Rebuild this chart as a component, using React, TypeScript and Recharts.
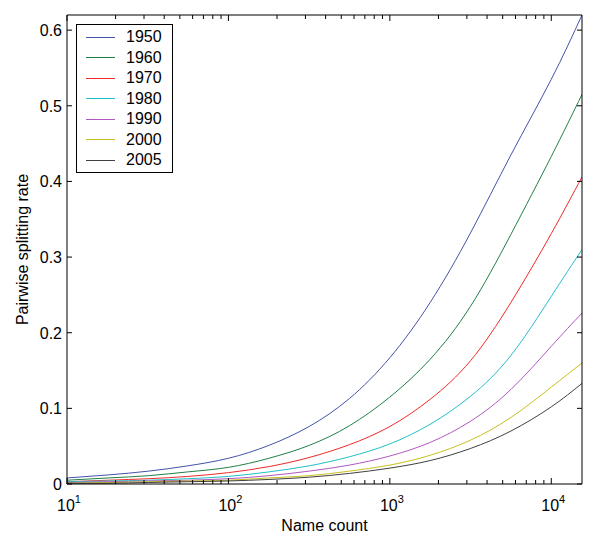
import React from "react";
import { LineChart, Line, XAxis, YAxis } from "recharts";

const counts = [10, 18, 32, 56, 100, 178, 316, 562, 1000, 1778, 3162, 5623, 10000, 15500];

const years = ["1950", "1960", "1970", "1980", "1990", "2000", "2005"];
const s1950 = [0.008, 0.012, 0.017, 0.024, 0.034, 0.051, 0.076, 0.113, 0.167, 0.24, 0.332, 0.435, 0.535, 0.62];
const s1960 = [0.005, 0.008, 0.011, 0.016, 0.022, 0.034, 0.051, 0.077, 0.115, 0.165, 0.235, 0.33, 0.433, 0.515];
const s1970 = [0.003, 0.005, 0.007, 0.010, 0.015, 0.023, 0.035, 0.052, 0.076, 0.112, 0.163, 0.24, 0.331, 0.406];
const s1980 = [0.003, 0.004, 0.005, 0.007, 0.010, 0.016, 0.024, 0.036, 0.053, 0.079, 0.116, 0.17, 0.248, 0.31];
const s1990 = [0.002, 0.003, 0.004, 0.005, 0.007, 0.011, 0.017, 0.025, 0.037, 0.055, 0.083, 0.125, 0.182, 0.226];
const s2000 = [0.001, 0.002, 0.003, 0.004, 0.005, 0.008, 0.011, 0.017, 0.025, 0.038, 0.058, 0.088, 0.128, 0.16];
const s2005 = [0.001, 0.001, 0.002, 0.003, 0.004, 0.006, 0.009, 0.014, 0.021, 0.031, 0.047, 0.07, 0.102, 0.133];
const seriesValues = [s1950, s1960, s1970, s1980, s1990, s2000, s2005];
const colors = ["#4452a8", "#1f7f45", "#ee2a2a", "#20c0c8", "#b058c0", "#c8c020", "#404040"];

const xTicks = [10, 20, 30, 40, 50, 60, 70, 80, 90, 100, 200, 300, 400, 500, 600, 700, 800, 900,
  1000, 2000, 3000, 4000, 5000, 6000, 7000, 8000, 9000, 10000];
const xMajorExp: Record<number, string> = { 10: "1", 100: "2", 1000: "3", 10000: "4" };
const yTicks = [0, 0.1, 0.2, 0.3, 0.4, 0.5, 0.6];
const yTickLabels = ["0", "0.1", "0.2", "0.3", "0.4", "0.5", "0.6"];

const data = counts.map((n, i) => {
  const row: Record<string, number> = { n };
  years.forEach((y, j) => {
    row[y] = seriesValues[j][i];
  });
  return row;
});

const FONT = "'Liberation Sans', Arial, Helvetica, sans-serif";

const BottomTick = (props: any) => {
  const { x, y, payload } = props;
  const v = payload.value;
  const exp = xMajorExp[v];
  const len = exp ? 6 : 4;
  return (
    <g>
      <line x1={x} y1={y} x2={x} y2={y - len} stroke="#000" strokeWidth={1} />
      {exp && (
        <text x={x + 2} y={y + 27} textAnchor="middle" fontSize={16} fontFamily={FONT} fill="#000">
          10
          <tspan fontSize={11} dy={-8}>{exp}</tspan>
        </text>
      )}
    </g>
  );
};

const TopTick = (props: any) => {
  const { x, y, payload } = props;
  const len = xMajorExp[payload.value] ? 6 : 4;
  return <line x1={x} y1={y} x2={x} y2={y + len} stroke="#000" strokeWidth={1} />;
};

const LeftTick = (props: any) => {
  const { x, y, payload } = props;
  const idx = yTicks.indexOf(payload.value);
  return (
    <g>
      <line x1={x} y1={y} x2={x + 5} y2={y} stroke="#000" strokeWidth={1} />
      <text x={x - 5} y={y + 6} textAnchor="end" fontSize={16} fontFamily={FONT} fill="#000">
        {yTickLabels[idx]}
      </text>
    </g>
  );
};

const RightTick = (props: any) => {
  const { x, y } = props;
  return <line x1={x} y1={y} x2={x - 5} y2={y} stroke="#000" strokeWidth={1} />;
};

export default function App() {
  return (
    <div style={{ position: "relative", width: 592, height: 532, fontFamily: FONT }}>
      <LineChart width={592} height={532} data={data} margin={{ top: 0, right: 0, bottom: 0, left: 0 }}>
        <XAxis
          dataKey="n"
          type="number"
          scale="log"
          domain={[10, 15500]}
          allowDataOverflow
          ticks={xTicks}
          interval={0}
          height={56}
          tickSize={0}
          tickMargin={0}
          tickLine={false}
          axisLine={{ stroke: "#000" }}
          tick={(p: any) => <BottomTick {...p} />}
          label={(p: any) => {
            const vb = p.viewBox || {};
            return (
              <text x={vb.x + vb.width / 2} y={523} textAnchor="middle" fontSize={16} fontFamily={FONT} fill="#000">
                Name count
              </text>
            );
          }}
        />
        <XAxis
          xAxisId="top"
          orientation="top"
          dataKey="n"
          type="number"
          scale="log"
          domain={[10, 15500]}
          allowDataOverflow
          ticks={xTicks}
          interval={0}
          height={7}
          tickSize={0}
          tickMargin={0}
          tickLine={false}
          axisLine={{ stroke: "#000" }}
          tick={(p: any) => <TopTick {...p} />}
        />
        <YAxis
          type="number"
          domain={[0, 0.62]}
          allowDataOverflow
          ticks={yTicks}
          interval={0}
          width={59}
          tickSize={0}
          tickMargin={0}
          tickLine={false}
          axisLine={{ stroke: "#000" }}
          tick={(p: any) => <LeftTick {...p} />}
          label={(p: any) => {
            const vb = p.viewBox || {};
            const cx = 20;
            const cy = vb.y + vb.height / 2;
            return (
              <text
                x={cx}
                y={cy}
                transform={`rotate(-90, ${cx}, ${cy})`}
                textAnchor="middle"
                fontSize={16}
                fontFamily={FONT}
                fill="#000"
              >
                Pairwise splitting rate
              </text>
            );
          }}
        />
        <YAxis
          yAxisId="right"
          orientation="right"
          type="number"
          domain={[0, 0.62]}
          allowDataOverflow
          ticks={yTicks}
          interval={0}
          width={18}
          tickSize={0}
          tickMargin={0}
          tickLine={false}
          axisLine={{ stroke: "#000" }}
          tick={(p: any) => <RightTick {...p} />}
        />
        {years.map((y, j) => (
          <Line
            key={y}
            dataKey={y}
            type="natural"
            stroke={colors[j]}
            strokeWidth={1}
            dot={false}
            isAnimationActive={false}
          />
        ))}
      </LineChart>
      <div
        style={{
          position: "absolute",
          left: 68,
          top: 16,
          width: 95,
          height: 147,
          border: "1px solid #000",
          background: "#fff",
          boxSizing: "content-box",
        }}
      >
        {years.map((y, j) => (
          <div
            key={y}
            style={{
              position: "absolute",
              left: 0,
              top: 2 + j * 20.5,
              height: 20,
              display: "flex",
              alignItems: "center",
            }}
          >
            <div style={{ marginLeft: 9, width: 29, height: 1, background: colors[j] }} />
            <span style={{ marginLeft: 11, fontSize: 16, color: "#000", lineHeight: "20px" }}>{y}</span>
          </div>
        ))}
      </div>
    </div>
  );
}
